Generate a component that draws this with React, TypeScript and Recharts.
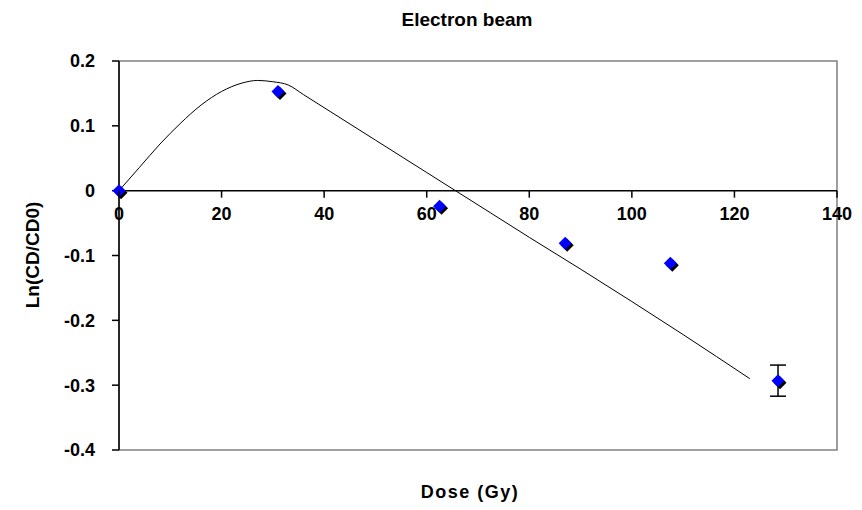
import React from "react";
import {
  ComposedChart,
  Line,
  Scatter,
  ErrorBar,
  XAxis,
  YAxis,
  ReferenceLine,
  ReferenceArea,
} from "recharts";

// fitted model curve
const fitDose = [0, 4, 8, 12, 16, 20, 24, 27, 30, 33, 36, 40, 50, 60, 70, 80, 90, 100, 110, 123];
const fitLn = [0, 0.036, 0.072, 0.104, 0.132, 0.153, 0.166, 0.17, 0.168, 0.163, 0.148, 0.128, 0.078, 0.028, -0.022, -0.072, -0.121, -0.171, -0.222, -0.29];

// measured points
const dose = [0, 31, 62.5, 87, 107.5, 128.5];
const lnCd = [0, 0.153, -0.024, -0.081, -0.112, -0.293];
const lnErr = [0, 0, 0, 0, 0, 0.024];

const xTicks = [0, 20, 40, 60, 80, 100, 120, 140];
const yTicks = [-0.4, -0.3, -0.2, -0.1, 0, 0.1, 0.2];

const W = 862;
const H = 510;
const PLOT_TOP = 61;
const PLOT_LEFT = 119;
const PLOT_RIGHT = 837;
const PLOT_BOTTOM = 450;
const Y_MIN = -0.4;
const Y_MAX = 0.2;

const fitData = fitDose.map((x, i) => ({ x, y: fitLn[i] }));
const pointData = dose.map((x, i) => ({ x, y: lnCd[i], err: lnErr[i] }));

const font = "'Liberation Sans', Arial, sans-serif";

// y pixel of the zero line, from the y domain
const zeroY = PLOT_TOP + ((PLOT_BOTTOM - PLOT_TOP) * (Y_MAX - 0)) / (Y_MAX - Y_MIN);

const XTick = (props: any) => {
  const { x, payload } = props;
  return (
    <g>
      <line x1={x} x2={x} y1={zeroY} y2={zeroY + 7} stroke="#000" strokeWidth={1.5} />
      <text
        x={x}
        y={zeroY + 29}
        textAnchor="middle"
        fontFamily={font}
        fontWeight="bold"
        fontSize={18}
        fill="#000"
      >
        {payload.value}
      </text>
    </g>
  );
};

const Diamond = (props: any) => {
  const { cx, cy } = props;
  if (cx == null || cy == null) return null;
  const r = 6.5;
  const pts = (dx: number, dy: number) =>
    `${cx + dx},${cy - r + dy} ${cx + r + dx},${cy + dy} ${cx + dx},${cy + r + dy} ${cx - r + dx},${cy + dy}`;
  return (
    <g>
      <polygon points={pts(2, 2)} fill="#000" />
      <polygon points={pts(0, 0)} fill="#0000FF" />
    </g>
  );
};

export default function App() {
  return (
    <div style={{ position: "absolute", left: 0, top: 0, width: W, height: H, background: "#fff" }}>
      <div
        style={{
          position: "absolute",
          left: 467,
          top: 9,
          transform: "translateX(-50%)",
          fontFamily: font,
          fontWeight: "bold",
          fontSize: 19,
          whiteSpace: "nowrap",
        }}
      >
        Electron beam
      </div>
      <div
        style={{
          position: "absolute",
          left: 470,
          top: 482,
          transform: "translateX(-50%)",
          fontFamily: font,
          fontWeight: "bold",
          fontSize: 18,
          letterSpacing: 1.5,
          whiteSpace: "nowrap",
        }}
      >
        Dose (Gy)
      </div>
      <div
        style={{
          position: "absolute",
          left: 33,
          top: 255,
          transform: "translate(-50%, -50%) rotate(-90deg)",
          fontFamily: font,
          fontWeight: "bold",
          fontSize: 19,
          whiteSpace: "nowrap",
        }}
      >
        Ln(CD/CD0)
      </div>
      <ComposedChart
        width={W}
        height={H}
        margin={{ top: PLOT_TOP, right: W - PLOT_RIGHT, bottom: H - PLOT_BOTTOM - 30, left: PLOT_LEFT - 60 }}
      >
        <ReferenceArea
          x1={0}
          x2={140}
          y1={Y_MIN}
          y2={Y_MAX}
          fill="none"
          stroke="#808080"
          strokeWidth={1.5}
        />
        <XAxis
          dataKey="x"
          type="number"
          domain={[0, 140]}
          ticks={xTicks}
          axisLine={false}
          tickLine={false}
          height={30}
          tick={<XTick />}
          interval={0}
        />
        <YAxis
          type="number"
          domain={[Y_MIN, Y_MAX]}
          ticks={yTicks}
          width={60}
          interval={0}
          axisLine={{ stroke: "#000", strokeWidth: 1.5 }}
          tickLine={{ stroke: "#000", strokeWidth: 1.5 }}
          tickSize={7}
          tickMargin={17}
          tick={{ fontFamily: font, fontWeight: "bold", fontSize: 18, fill: "#000" }}
          tickFormatter={(v: number) => String(Number(v.toFixed(1)))}
        />
        <ReferenceLine y={0} stroke="#000" strokeWidth={1.5} />
        <Line
          data={fitData}
          dataKey="y"
          type="monotone"
          stroke="#000"
          strokeWidth={1}
          dot={false}
          activeDot={false}
          isAnimationActive={false}
        />
        <Scatter data={pointData} dataKey="y" shape={<Diamond />} isAnimationActive={false}>
          <ErrorBar dataKey="err" direction="y" width={8} stroke="#000" strokeWidth={1.5} />
        </Scatter>
      </ComposedChart>
    </div>
  );
}
